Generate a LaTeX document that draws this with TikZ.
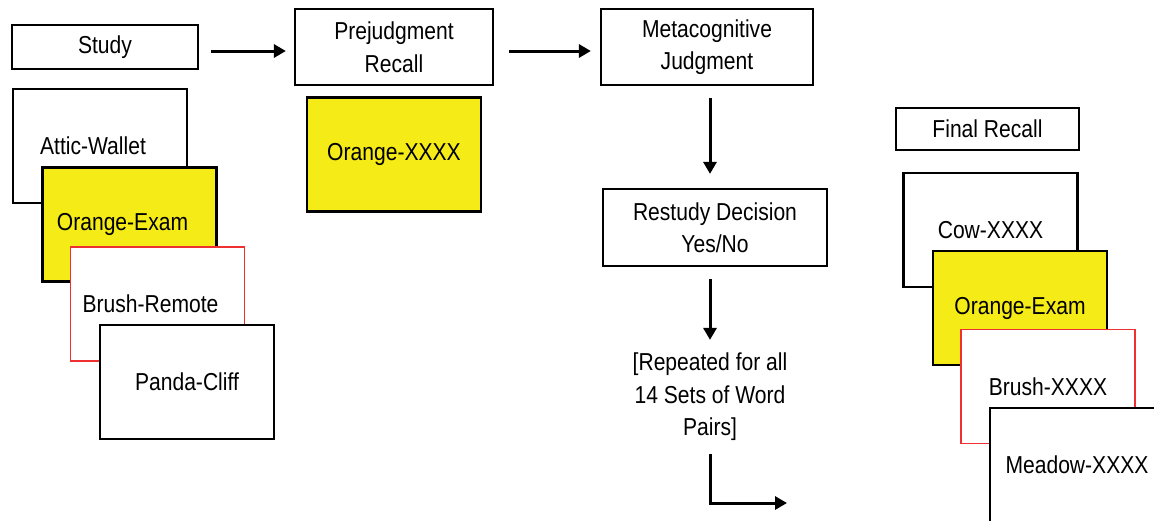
\documentclass[tikz,border=0pt]{standalone}
\usepackage{fontspec}
\setmainfont{Liberation Sans}[FakeStretch=0.86]
\usetikzlibrary{arrows.meta,positioning}
\definecolor{cardyellow}{RGB}{245,235,22}
\definecolor{cardred}{RGB}{238,48,48}

\begin{document}
\begin{tikzpicture}[
    x=1pt, y=-1pt,
    font=\fontsize{24.5}{32.5}\selectfont,
    box/.style={draw, line width=2.2pt, align=center, inner sep=0pt},
    card/.style={draw, line width=2.2pt, fill=white, inner sep=0pt,
                 minimum width=174pt, minimum height=114pt},
    redcard/.style={card, draw=cardred, line width=1.8pt},
    cardtext/.style={label={[xshift=-7pt]center:#1}},
    arr/.style={-{Triangle[length=12pt,width=13pt]}, line width=3pt}
  ]
  \useasboundingbox (0,0) rectangle (1154,520);
  \clip (0,0) rectangle (1154,520);

  \node[box, minimum width=186pt, minimum height=44pt] (study) at (105,47) {Study};
  \node[box, minimum width=198pt, minimum height=76pt] (prejudge) at (394,47) {Prejudgment\\Recall};
  \node[card, fill=cardyellow] (orangeX) at (394,154.5) {Orange-XXXX};
  \node[box, minimum width=212pt, minimum height=76pt] (metajudge) at (707,47) {Metacognitive\\Judgment};
  \node[box, minimum width=224pt, minimum height=77pt] (restudy) at (715,227.5) {Restudy Decision\\Yes/No};
  \node[align=center, inner sep=0pt] (repeat) at (710,397) {[Repeated for all\\14 Sets of Word\\Pairs]};
  \coordinate (loopend) at (787,503);
  \node[box, minimum width=183pt, minimum height=42pt] (final) at (987.5,129) {Final Recall};

  \node[card, cardtext=Attic-Wallet] (attic) at (100,146) {};
  \node[card, fill=cardyellow, cardtext=Orange-Exam] (orangeL) at (129.5,224.5) {};
  \node[redcard, cardtext=Brush-Remote] (brushL) at (157.5,304) {};
  \node[card] (panda) at (187,382) {Panda-Cliff};

  \node[card] (cow) at (990.5,230) {Cow-XXXX};
  \node[card, fill=cardyellow] (orangeR) at (1020,308) {Orange-Exam};
  \node[redcard] (brushR) at (1048,386.5) {Brush-XXXX};
  \node[card] (meadow) at (1077,465) {Meadow-XXXX};

  \draw[arr, shorten <=12pt, shorten >=8pt] ([yshift=-4pt]study.east) -- ([yshift=-4pt]prejudge.west);
  \draw[arr, shorten <=15pt, shorten >=9pt] ([yshift=-4pt]prejudge.east) -- ([yshift=-4pt]metajudge.west);
  \draw[arr, shorten <=12pt, shorten >=14pt] (metajudge.south -| repeat.north) -- (restudy.north -| repeat.north);
  \draw[arr, shorten <=12pt, shorten >=13pt] (restudy.south -| repeat.north) -- (repeat.north);
  \draw[arr, shorten <=13pt] (repeat.south) |- (loopend);
\end{tikzpicture}
\end{document}
